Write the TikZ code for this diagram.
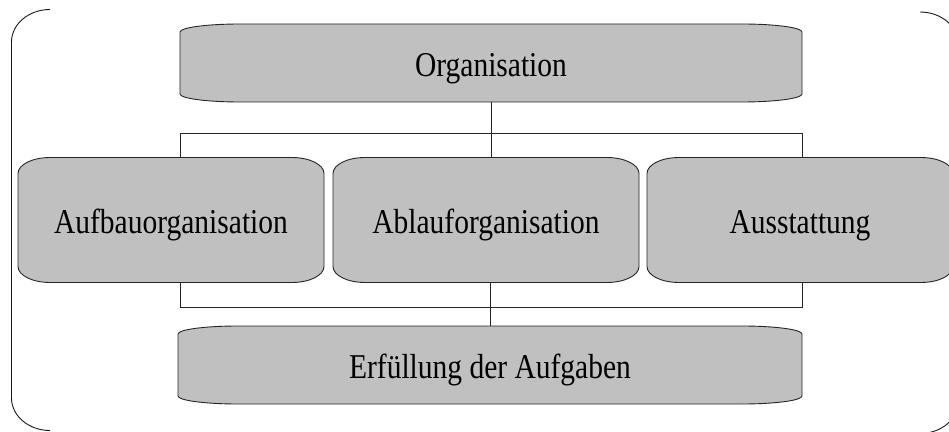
\documentclass[tikz,border=0pt]{standalone}
\usepackage{fontspec}
\setmainfont{Liberation Serif}
\usetikzlibrary{backgrounds,calc}
\newcommand\tallt[1]{\scalebox{1}[1.18]{#1}}
\tikzset{
  boxtext/.style={inner sep=0pt,outer sep=0pt,font=\fontsize{29.5}{35}\selectfont,text=black,
    text height=27pt,text depth=0pt},
  boxfill/.style={fill=boxgray,draw=black!85,line width=0.9pt},
  conn/.style={draw=black!85,line width=0.9pt},
  framestyle/.style={draw=black!90,line width=0.9pt}
}
\definecolor{boxgray}{HTML}{C0C0C0}
\newcommand\ebox[3]{%
  \begin{scope}[on background layer]
  \path[boxfill] ([xshift=#2pt]#1.north west) -- ([xshift=-#2pt]#1.north east)
    arc[start angle=90,end angle=0,x radius=#2pt,y radius=#3pt]
    -- ([yshift=#3pt]#1.south east)
    arc[start angle=0,end angle=-90,x radius=#2pt,y radius=#3pt]
    -- ([xshift=#2pt]#1.south west)
    arc[start angle=270,end angle=180,x radius=#2pt,y radius=#3pt]
    -- ([yshift=-#3pt]#1.north west)
    arc[start angle=180,end angle=90,x radius=#2pt,y radius=#3pt] -- cycle;
  \end{scope}}
\begin{document}
\begin{tikzpicture}[x=1pt,y=1pt]
\useasboundingbox (0,0) rectangle (949,431);
\clip (0,0) rectangle (949,431);
% outer frame (partly outside the picture)
\draw[framestyle] (50,421.5) arc[start angle=90,end angle=180,x radius=38.5,y radius=32.5]
  -- (11.5,33) arc[start angle=180,end angle=270,x radius=38.5,y radius=32.5];
\draw[framestyle] (920,419) arc[start angle=90,end angle=0,x radius=38.5,y radius=32.5]
  -- (958.5,30) arc[start angle=0,end angle=-90,x radius=38.5,y radius=32.5];
% nodes
\node[boxtext,minimum width=622pt,minimum height=78pt] (org) at (491,368) {\tallt{Organisation}};
\node[boxtext,minimum width=306pt,minimum height=125pt] (auf) at (171,211) {\tallt{Aufbauorganisation}};
\node[boxtext,minimum width=306pt,minimum height=125pt] (abl) at (486,211) {\tallt{Ablauforganisation}};
\node[boxtext,minimum width=306pt,minimum height=125pt] (aus) at (800,211) {\tallt{Ausstattung}};
\node[boxtext,minimum width=624pt,minimum height=78pt] (erf) at (490,66) {\tallt{Erfüllung der Aufgaben}};
\ebox{org}{60}{8}
\ebox{auf}{32}{16}
\ebox{abl}{32}{16}
\ebox{aus}{32}{16}
\ebox{erf}{60}{8}
% connectors
\coordinate (tl) at (180,298);
\coordinate (tr) at (802,298);
\coordinate (bl) at (180,124);
\coordinate (br) at (802,124);
\draw[conn] (tl |- auf.north) -- (tl) -- (tr) -- (tr |- aus.north);
\draw[conn] (org.south) -- (org.south |- abl.north);
\draw[conn] (bl |- auf.south) -- (bl) -- (br) -- (br |- aus.south);
\draw[conn] (erf.north) -- (erf.north |- abl.south);
\end{tikzpicture}
\end{document}
